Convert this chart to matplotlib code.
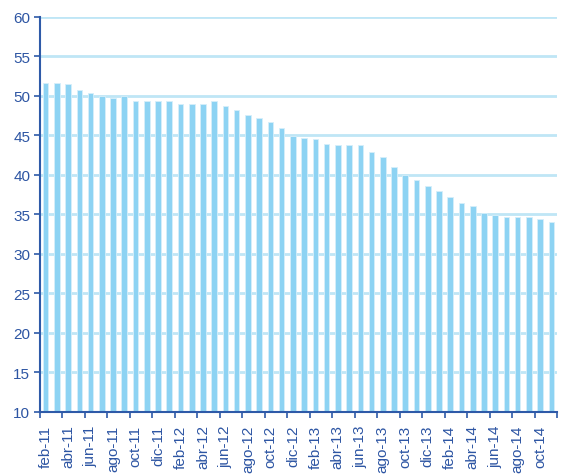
import numpy as np
import matplotlib.pyplot as plt

# monthly values, feb-11 .. nov-14
seq = ['ene', 'feb', 'mar', 'abr', 'may', 'jun', 'jul', 'ago', 'sep', 'oct', 'nov', 'dic']
periods = []
for yr in range(11, 15):
    for m in seq:
        periods.append('%s-%d' % (m, yr))
periods = periods[1:47]

values = [51.6, 51.6, 51.45, 50.7, 50.3, 49.9, 49.7, 49.9, 49.3, 49.3,
          49.3, 49.3, 48.9, 48.9, 48.9, 49.3, 48.7, 48.2, 47.6, 47.2,
          46.6, 45.85, 44.9, 44.65, 44.5, 43.9, 43.7, 43.7, 43.7, 42.9,
          42.2, 41.0, 39.9, 39.3, 38.6, 38.0, 37.2, 36.45, 36.05, 35.1,
          34.95, 34.6, 34.6, 34.6, 34.4, 34.0]

bar_color = '#8dd3f3'
grid_color = '#bfe6f6'
axis_color = '#2e5aa8'
text_color = '#2d55a3'

plt.rcParams['font.family'] = ['Liberation Sans', 'DejaVu Sans']

fig = plt.figure(figsize=(5.67, 4.77), dpi=100)
ax = fig.add_axes([0.0705, 0.1342, 0.9119, 0.8291])

x = np.arange(len(values))
ax.bar(x, values, width=0.5, color=bar_color, edgecolor='#d6effa', linewidth=0.6, zorder=3)

ax.set_ylim(10, 60)
ax.set_xlim(-0.5, len(values) - 0.5)
ax.set_yticks(np.arange(10, 61, 5))
ax.yaxis.grid(True, color=grid_color, linewidth=2)
ax.set_axisbelow(True)

ax.set_xticks(x[::2])
ax.set_xticklabels(periods[::2], rotation=90)
ax.set_xticks(np.arange(-0.5, len(values), 2), minor=True)
ax.tick_params(axis='x', which='major', length=0, pad=9, labelsize=11, colors=text_color)
ax.tick_params(axis='x', which='minor', length=4, width=1.2, color=axis_color, direction='out')
ax.tick_params(axis='y', length=4, width=1.2, color=axis_color, labelsize=11,
               labelcolor=text_color, pad=3)

for s in ['top', 'right']:
    ax.spines[s].set_visible(False)
for s in ['left', 'bottom']:
    ax.spines[s].set_color(axis_color)
    ax.spines[s].set_linewidth(1.5)
    ax.spines[s].set_zorder(4)

fig.savefig('out.png', dpi=100)
